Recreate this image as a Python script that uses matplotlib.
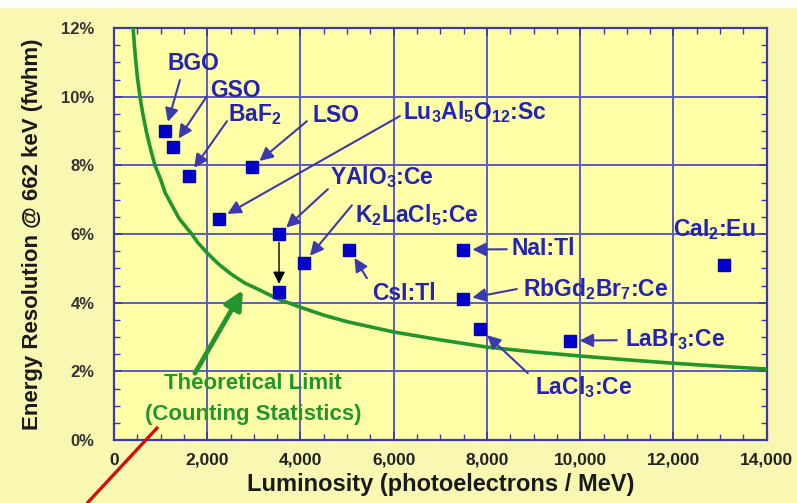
import matplotlib
matplotlib.use("Agg")
import matplotlib.pyplot as plt
from matplotlib.patches import Rectangle
from matplotlib.ticker import FuncFormatter, MultipleLocator

# scintillator data: luminosity (photoelectrons / MeV) and resolution (% fwhm)
names = ["BGO", "GSO", "BaF$_2$", "LSO", "Lu$_3$Al$_5$O$_{12}$:Sc", "YAlO$_3$:Ce",
         "K$_2$LaCl$_5$:Ce", "CsI:Tl", "NaI:Tl", "RbGd$_2$Br$_7$:Ce", "LaCl$_3$:Ce",
         "LaBr$_3$:Ce", "CaI$_2$:Eu"]
luminosity = [1100, 1270, 1600, 2960, 2250, 3540, 4070, 5050, 7480, 7480, 7850, 9780, 13080]
resolution = [9.0, 8.55, 7.7, 7.95, 6.45, 6.0, 5.15, 5.55, 5.55, 4.1, 3.25, 2.9, 5.1]

# YAlO3:Ce projected point
yap_proj_lum = [3540]
yap_proj_res = [4.31]

# theoretical limit (counting statistics)
limit_lum = [410, 450, 500, 557, 620, 700, 790, 880, 1000, 1100, 1200, 1400, 1670,
             1800, 2000, 2250, 2500, 2800, 3130, 3500, 4000, 4500, 5000, 6000,
             7000, 8000, 9000, 10000, 11000, 12000, 13000, 14000]
limit_res = [12.0, 11.3, 10.6, 10.0, 9.5, 8.95, 8.45, 8.0, 7.6, 7.2, 6.95, 6.45, 6.0,
             5.75, 5.45, 5.12, 4.85, 4.58, 4.37, 4.12, 3.87, 3.64, 3.45, 3.15,
             2.92, 2.71, 2.57, 2.45, 2.34, 2.24, 2.15, 2.07]

# label anchor (left, middle) and arrow tail for each point (None = no arrow)
label_pos = [(1158, 10.98), (2058, 10.19), (2444, 9.47), (4267, 9.47), (6196, 9.55),
             (4631, 7.66), (5167, 6.55), (5532, 4.28), (8533, 5.59), (8769, 4.40),
             (9026, 1.54), (10956, 2.94), (11985, 6.12)]
arrow_tail = [(1415, 10.49), (1994, 10.02), (2423, 9.29), (4138, 9.29), (6132, 9.44),
              (4588, 7.31), (5103, 6.84), (5424, 4.72), (8426, 5.56), (8640, 4.40),
              (8876, 1.95), (10784, 2.91), None]

BLUE_TXT = "#2323B8"
BLUE_LINE = "#3A3AAE"
GREEN = "#22952E"

plt.rcParams["font.family"] = ["Liberation Sans", "DejaVu Sans"]
plt.rcParams["mathtext.fontset"] = "custom"
plt.rcParams["mathtext.bf"] = "Liberation Sans:bold"
plt.rcParams["mathtext.rm"] = "Liberation Sans:bold"
plt.rcParams["mathtext.default"] = "bf"

fig = plt.figure(figsize=(7.97, 5.03), dpi=100, facecolor="#F8F8B2")
fig.patches.append(Rectangle((0, 0.986), 1, 0.014, transform=fig.transFigure,
                             color="white", zorder=0))
ax = fig.add_axes([0.143, 0.125, 0.819, 0.819], facecolor="#FFFFA8")

ax.set_xlim(0, 14000)
ax.set_ylim(0, 12)
ax.xaxis.set_major_locator(MultipleLocator(2000))
ax.xaxis.set_minor_locator(MultipleLocator(500))
ax.yaxis.set_major_locator(MultipleLocator(2))
ax.yaxis.set_minor_locator(MultipleLocator(0.5))
ax.xaxis.set_major_formatter(FuncFormatter(lambda v, _: f"{int(v):,}"))
ax.yaxis.set_major_formatter(FuncFormatter(lambda v, _: f"{int(v)}%"))
ax.grid(which="major", color="#5C5CC4", lw=1.4)
ax.set_axisbelow(True)
for sp in ax.spines.values():
    sp.set_color(BLUE_LINE)
    sp.set_linewidth(1.6)
ax.tick_params(which="both", direction="in", top=True, right=True, color=BLUE_LINE)
ax.tick_params(which="major", length=6, width=1.2)
ax.tick_params(which="minor", length=4, width=1.0)
ax.tick_params(axis="y", labelsize=12, labelcolor="#333333", pad=14)
ax.tick_params(axis="x", labelsize=12.5, labelcolor="#222222", pad=9)
for lab in ax.get_xticklabels() + ax.get_yticklabels():
    lab.set_fontweight("bold")

ax.set_xlabel("Luminosity (photoelectrons / MeV)", fontsize=17, fontweight="bold",
              color="#1A1A1A", labelpad=4)
ax.set_ylabel("Energy Resolution @ 662 keV (fwhm)", fontsize=16, fontweight="bold",
              color="#1A1A1A", labelpad=13)

ax.plot(limit_lum, limit_res, color=GREEN, lw=2.6, zorder=3, solid_joinstyle="round")

ax.plot(luminosity, resolution, ls="none", marker="s", ms=9, color="#0000C8", zorder=5)
ax.plot(yap_proj_lum, yap_proj_res, ls="none", marker="s", ms=9, color="#0000C8", zorder=5)

for name, x, y, (lx, ly), tail in zip(names, luminosity, resolution, label_pos, arrow_tail):
    ax.text(lx, ly, name, color=BLUE_TXT, fontsize=16.5, fontweight="bold",
            ha="left", va="center", zorder=6)
    if tail is not None:
        ax.annotate("", xy=(x, y), xytext=tail,
                    arrowprops=dict(arrowstyle="-|>", color=BLUE_LINE, lw=1.5,
                                    mutation_scale=20, shrinkA=0, shrinkB=7),
                    zorder=4)

# YAlO3:Ce shift arrow
ax.annotate("", xy=(yap_proj_lum[0], yap_proj_res[0]), xytext=(luminosity[5], resolution[5]),
            arrowprops=dict(arrowstyle="-|>", color="black", lw=1.0, mutation_scale=18,
                            shrinkA=6, shrinkB=6), zorder=4)

# theoretical limit label and arrow
ax.text(2980, 1.66, "Theoretical Limit", color=GREEN, fontsize=16, fontweight="bold",
        ha="center", va="center")
ax.text(2980, 0.76, "(Counting Statistics)", color=GREEN, fontsize=16, fontweight="bold",
        ha="center", va="center")
ax.annotate("", xy=(2766, 4.37), xytext=(1737, 1.95),
            arrowprops=dict(arrowstyle="-|>", color=GREEN, lw=3.5, mutation_scale=28,
                            shrinkA=0, shrinkB=0))

# red pointer drawn on the slide
ax.plot([922, -557], [0.35, -1.81], color="#D01010", lw=2.4, clip_on=False, zorder=7)

fig.savefig("out.png", dpi=100, facecolor=fig.get_facecolor())
